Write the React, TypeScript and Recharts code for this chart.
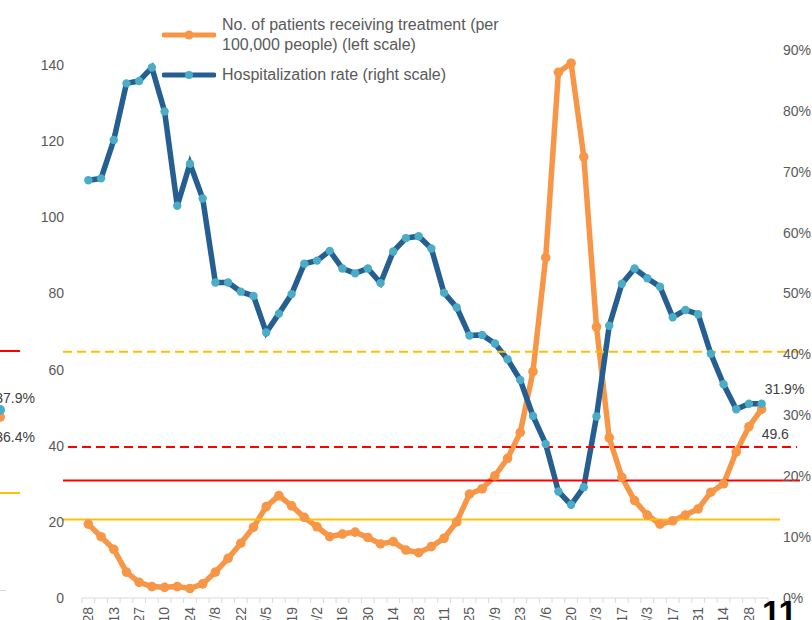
import {
  ComposedChart,
  Line,
  XAxis,
  YAxis,
  ReferenceLine,
  Legend,
  LabelList,
} from 'recharts'

// weekly reporting dates (only every second one is labelled on the axis)
const weeks = [
  '4/28', '5/6', '5/13', '5/20', '5/27', '6/3', '6/10', '6/17', '6/24', '7/1',
  '7/8', '7/15', '7/22', '7/29', '8/5', '8/12', '8/19', '8/26', '9/2', '9/9',
  '9/16', '9/23', '9/30', '10/7', '10/14', '10/21', '10/28', '11/4', '11/11', '11/18',
  '11/25', '12/2', '12/9', '12/16', '12/23', '12/30', '1/6', '1/13', '1/20', '1/27',
  '2/3', '2/10', '2/17', '2/24', '3/3', '3/10', '3/17', '3/24', '3/31', '4/7',
  '4/14', '4/21', '4/28', '5/5',
]

// left scale: patients receiving treatment per 100,000 people
const patientsPer100k = [
  19.4, 16.1, 12.8, 6.8, 4.1, 3.0, 2.8, 3.0, 2.5, 3.7,
  6.8, 10.4, 14.4, 18.6, 24.0, 26.9, 24.2, 21.2, 18.7, 16.1,
  16.8, 17.3, 15.9, 14.2, 14.8, 12.6, 11.9, 13.5, 15.7, 20.0,
  27.3, 28.7, 32.1, 36.7, 43.5, 59.5, 89.4, 138.1, 140.5, 115.9,
  71.2, 42.1, 31.7, 25.6, 21.8, 19.4, 20.3, 21.8, 23.4, 27.8,
  30.0, 38.4, 45.0, 49.6,
]

// right scale: hospitalization rate in %
const hospitalizationRate = [
  68.6, 68.9, 75.2, 84.5, 84.9, 87.1, 79.9, 64.4, 71.3, 65.6,
  51.8, 51.8, 50.3, 49.6, 43.6, 46.7, 49.9, 54.9, 55.4, 57.0,
  54.1, 53.3, 54.1, 51.7, 56.9, 59.1, 59.4, 57.4, 50.1, 47.7,
  43.1, 43.2, 41.8, 39.2, 35.8, 29.9, 25.3, 17.5, 15.3, 18.2,
  29.8, 44.7, 51.6, 54.1, 52.5, 51.1, 46.1, 47.3, 46.6, 40.1,
  35.1, 31.0, 31.9, 31.9,
]

const leftTicks = [0, 20, 40, 60, 80, 100, 120, 140, 160]
const rightTicks = [0, 10, 20, 30, 40, 50, 60, 70, 80, 90, 100]

// threshold levels on the left scale
const thresholdLevels = [64.7, 39.7, 30.9, 20.6]

const data = weeks.map((week, i) => ({
  week,
  patients: patientsPer100k[i],
  rate: hospitalizationRate[i],
}))

const FONT = '"Liberation Sans", Arial, sans-serif'
const ORANGE = '#F79646'
const NAVY = '#255E91'
const AQUA = '#4BACC6'
const GREY_TEXT = '#595959'

const CHART_W = 812
const CHART_H = 700
const LEFT_AXIS_W = 82
const RIGHT_AXIS_W = 44
const PLOT_W = CHART_W - LEFT_AXIS_W - RIGHT_AXIS_W
const BAND = PLOT_W / weeks.length
const LAST = weeks.length - 1

const thresholdStyles = [
  { color: '#FFC000', dash: '9 5', extL: 19, extR: 32 },
  { color: '#FF0000', dash: '9 5', extL: 14, extR: 29 },
  { color: '#FF0000', dash: undefined, extL: 19, extR: 32 },
  { color: '#FFC000', dash: undefined, extL: 19, extR: 12 },
]

// tick marks sit between categories, labels on every other category
function WeekTick(props: any) {
  const { x, y, payload } = props
  const index = props.index ?? payload?.index ?? 0
  const ty = y + 9
  return (
    <g>
      <line x1={x - BAND / 2} x2={x - BAND / 2} y1={y} y2={y + 5} stroke="#D9D9D9" />
      {index === LAST && (
        <line x1={x + BAND / 2} x2={x + BAND / 2} y1={y} y2={y + 5} stroke="#D9D9D9" />
      )}
      {index % 2 === 0 && (
        <text
          x={x}
          y={ty}
          dy="0.35em"
          textAnchor="end"
          transform={`rotate(-90, ${x}, ${ty})`}
          fontSize={14}
          fontFamily={FONT}
          fill={GREY_TEXT}
        >
          {payload.value}
        </text>
      )}
    </g>
  )
}

function LegendBox() {
  return (
    <div style={{ fontFamily: FONT, fontSize: 16, color: GREY_TEXT, lineHeight: '20px', textAlign: 'left' }}>
      <div style={{ display: 'flex', alignItems: 'center' }}>
        <svg width={54} height={12} style={{ flex: 'none' }}>
          <line x1={2} y1={6} x2={52} y2={6} stroke={ORANGE} strokeWidth={5} strokeLinecap="round" />
          <circle cx={27} cy={6} r={4.5} fill={ORANGE} />
        </svg>
        <div style={{ marginLeft: 6, whiteSpace: 'nowrap' }}>
          No. of patients receiving treatment (per
          <br />
          100,000 people) (left scale)
        </div>
      </div>
      <div style={{ display: 'flex', alignItems: 'center', marginTop: 10 }}>
        <svg width={54} height={12} style={{ flex: 'none' }}>
          <line x1={2} y1={6} x2={52} y2={6} stroke={NAVY} strokeWidth={5} strokeLinecap="round" />
          <circle cx={27} cy={6} r={4} fill={AQUA} />
        </svg>
        <div style={{ marginLeft: 6, whiteSpace: 'nowrap' }}>Hospitalization rate (right scale)</div>
      </div>
    </div>
  )
}

function lastLabel(dx: number, dy: number, suffix: string) {
  return (p: any) => {
    if (p.index !== LAST) return null
    return (
      <text
        x={p.x + dx}
        y={p.y + dy}
        dy="0.35em"
        fontSize={14}
        fontFamily={FONT}
        fill="#404040"
      >
        {`${p.value}${suffix}`}
      </text>
    )
  }
}

export default function App() {
  return (
    <div
      style={{
        position: 'absolute',
        left: 0,
        top: 0,
        width: 812,
        height: 620,
        overflow: 'hidden',
        background: '#fff',
        fontFamily: FONT,
      }}
    >
      <div style={{ position: 'absolute', left: 0, top: -40 }}>
        <ComposedChart
          width={CHART_W}
          height={CHART_H}
          data={data}
          margin={{ top: 29, right: 0, bottom: 0, left: 0 }}
        >
          <XAxis
            dataKey="week"
            interval={0}
            height={62}
            padding={{ left: BAND / 2, right: BAND / 2 }}
            tickSize={0}
            tickMargin={0}
            tickLine={false}
            axisLine={{ stroke: '#D9D9D9' }}
            tick={<WeekTick />}
          />
          <YAxis
            yAxisId="left"
            domain={[0, 160]}
            ticks={leftTicks}
            width={LEFT_AXIS_W}
            axisLine={false}
            tickLine={false}
            tickSize={0}
            tickMargin={18}
            tick={{ fill: GREY_TEXT, fontSize: 14, fontFamily: FONT }}
          />
          <YAxis
            yAxisId="right"
            orientation="right"
            domain={[0, 100]}
            ticks={rightTicks}
            width={RIGHT_AXIS_W}
            axisLine={false}
            tickLine={false}
            tickSize={0}
            tickMargin={15}
            tickFormatter={(v) => `${v}%`}
            tick={{ fill: GREY_TEXT, fontSize: 14, fontFamily: FONT, textAnchor: 'start' }}
          />
          <Legend
            layout="vertical"
            align="center"
            verticalAlign="middle"
            wrapperStyle={{ top: 55, left: 162, width: 400 }}
            content={<LegendBox />}
          />
          <Line
            yAxisId="left"
            type="linear"
            dataKey="patients"
            stroke={ORANGE}
            strokeWidth={5.5}
            dot={{ r: 4.8, fill: ORANGE, stroke: 'none' }}
            activeDot={false}
            isAnimationActive={false}
          >
            <LabelList dataKey="patients" content={lastLabel(0, 25, '')} />
          </Line>
          <Line
            yAxisId="right"
            type="linear"
            dataKey="rate"
            stroke={NAVY}
            strokeWidth={5.5}
            dot={{ r: 4.2, fill: AQUA, stroke: 'none' }}
            activeDot={false}
            isAnimationActive={false}
          >
            <LabelList dataKey="rate" content={lastLabel(3, -15, '%')} />
          </Line>
          {thresholdLevels.map((level, i) => {
            const s = thresholdStyles[i]
            return (
              <ReferenceLine
                key={i}
                yAxisId="left"
                y={level}
                shape={(p: any) => (
                  <line
                    x1={p.x1 - s.extL}
                    y1={p.y1}
                    x2={p.x2 + s.extR}
                    y2={p.y2}
                    stroke={s.color}
                    strokeWidth={2}
                    strokeDasharray={s.dash}
                  />
                )}
              />
            )
          })}
        </ComposedChart>
      </div>

      {/* edge of the neighbouring chart on the slide */}
      <div style={{ position: 'absolute', left: 0, top: 350, width: 20, height: 2, background: '#FF0000' }} />
      <div style={{ position: 'absolute', left: 0, top: 492, width: 20, height: 2, background: '#FFC000' }} />
      <div style={{ position: 'absolute', left: 0, top: 590, width: 6, height: 1, background: '#D9D9D9' }} />
      <div style={{ position: 'absolute', left: -5, top: 412, width: 10, height: 10, borderRadius: 5, background: ORANGE }} />
      <div style={{ position: 'absolute', left: -5, top: 405, width: 10, height: 10, borderRadius: 5, background: AQUA }} />
      <div style={{ position: 'absolute', right: 812 - 35, top: 389, fontSize: 14, color: '#404040', whiteSpace: 'nowrap', lineHeight: '18px' }}>37.9%</div>
      <div style={{ position: 'absolute', right: 812 - 35, top: 428, fontSize: 14, color: '#404040', whiteSpace: 'nowrap', lineHeight: '18px' }}>36.4%</div>

      {/* slide number */}
      <div style={{ position: 'absolute', left: 762, top: 596, fontSize: 33, fontWeight: 700, lineHeight: '33px', color: '#000' }}>11</div>
    </div>
  )
}
